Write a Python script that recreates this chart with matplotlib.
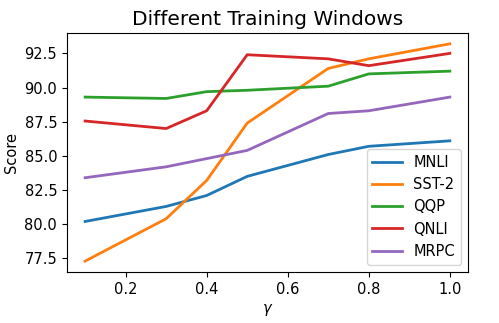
import matplotlib
matplotlib.use("Agg")
import matplotlib.pyplot as plt

# Data
gamma = [0.1, 0.3, 0.4, 0.5, 0.7, 0.8, 1.0]
mnli = [80.2, 81.3, 82.1, 83.5, 85.1, 85.7, 86.1]
sst2 = [77.3, 80.4, 83.2, 87.4, 91.4, 92.1, 93.2]
qqp = [89.3, 89.2, 89.7, 89.8, 90.1, 91.0, 91.2]
qnli = [87.55, 87.0, 88.3, 92.4, 92.1, 91.6, 92.5]
mrpc = [83.4, 84.2, 84.8, 85.4, 88.1, 88.3, 89.3]

plt.rcParams['font.size'] = 10.5

fig, ax = plt.subplots(figsize=(4.99, 3.23), dpi=100)
fig.subplots_adjust(left=0.134, right=0.938, top=0.898, bottom=0.158)

ax.plot(gamma, mnli, label='MNLI', linewidth=2)
ax.plot(gamma, sst2, label='SST-2', linewidth=2)
ax.plot(gamma, qqp, label='QQP', linewidth=2)
ax.plot(gamma, qnli, label='QNLI', linewidth=2)
ax.plot(gamma, mrpc, label='MRPC', linewidth=2)

ax.set_title('Different Training Windows', fontsize=14.5)
ax.set_xlabel(r'$\gamma$')
ax.set_ylabel('Score')
ax.set_yticks([77.5, 80.0, 82.5, 85.0, 87.5, 90.0, 92.5])
ax.legend(loc='lower right')

fig.savefig('out.png', dpi=100)
